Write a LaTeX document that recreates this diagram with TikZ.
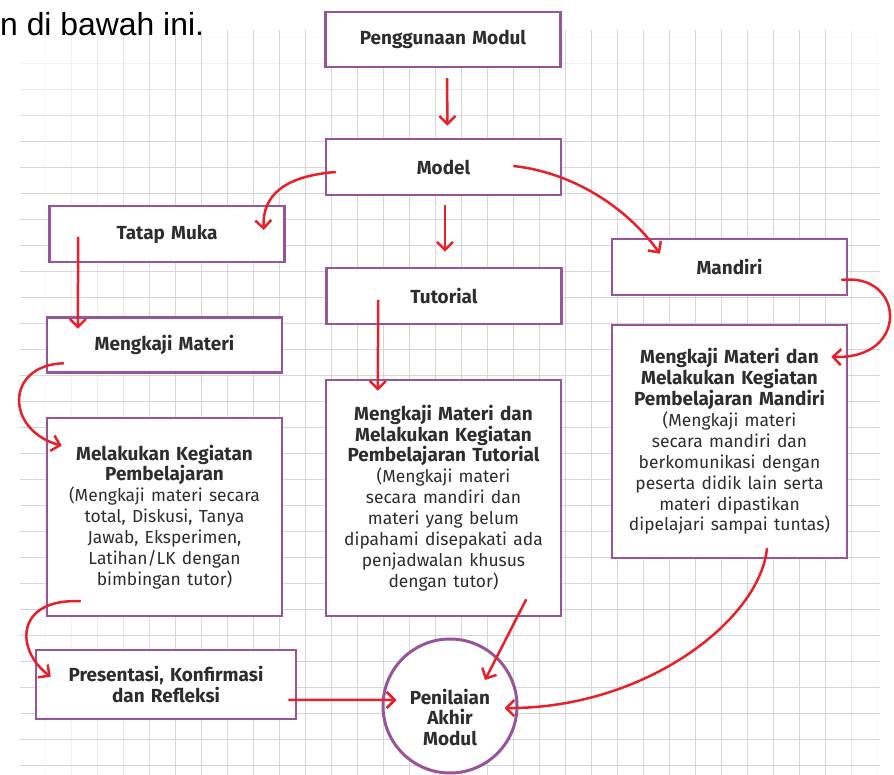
\documentclass[tikz,border=0pt]{standalone}
\usepackage{fontspec}
\setmainfont{Fira Sans}
\newfontfamily\introfont{Liberation Sans}
\usetikzlibrary{arrows.meta}
\definecolor{boxpurple}{RGB}{152,84,152}
\definecolor{arrowred}{RGB}{232,32,42}
\definecolor{textgray}{RGB}{45,45,45}
\newcommand\detailfont{\mdseries\fontsize{17.5}{21}\selectfont}

\begin{document}
\begin{tikzpicture}[x=1bp,y=1bp,inner sep=0pt,
  modbox/.style={draw=boxpurple,line width=2.5bp,fill=white,minimum width=235bp,minimum height=56bp,
    text width=228bp,align=center,text=textgray,font=\fontsize{19}{21}\selectfont\bfseries},
  modcircle/.style={circle,draw=boxpurple,line width=3bp,fill=white,minimum size=134bp,
    text width=110bp,align=center,text=textgray,font=\fontsize{19}{20.5}\selectfont\bfseries},
  flow/.style={draw=arrowred,line width=2.5bp,-{Straight Barb[length=8bp,width=16bp]}}]
\useasboundingbox (0,0) rectangle (894,775);
\fill[white] (0,0) rectangle (894,775);
% faded grid paper behind the chart
\foreach \gx [evaluate=\gx as \op using {max(0,min(1,(\gx-20)/160,(885-\gx)/60))}] in {45,71,...,877}
  \draw[black!16,line width=0.8bp,opacity=\op] (\gx,0) -- (\gx,745);
\foreach \gy [evaluate=\gy as \op using {max(0,min(1,(750-\gy)/120))}] in {10,36,...,738}
  \draw[black!16,line width=0.8bp,opacity=\op] (20,\gy) -- (880,\gy);
\node[anchor=base west,font=\introfont\fontsize{32}{32}\selectfont] (intro) at (0,739) {n di bawah ini.};
\node[modbox,minimum height=55bp] (use) at (443,735.5) {Penggunaan Modul};
\node[modbox] (model) at (443.5,608) {Model};
\node[modbox] (tatap) at (167,541) {Tatap Muka};
\node[modbox] (tutorial) at (444,479) {Tutorial};
\node[modbox] (mandiri) at (729.5,508) {Mandiri};
\node[modbox,minimum height=55bp] (kaji) at (164.5,430) {Mengkaji Materi};
\node[modbox,minimum height=198bp] (lakukan) at (164.5,258) {Melakukan Kegiatan\\Pembelajaran\\
  \detailfont(Mengkaji materi secara\\total, Diskusi, Tanya\\Jawab, Eksperimen,\\Latihan/LK dengan\\bimbingan tutor)};
\node[modbox,minimum width=260bp,text width=250bp,minimum height=69bp] (presentasi) at (166,90.5) {Presentasi, Konfirmasi\\dan Refleksi};
\node[modbox,minimum height=236bp] (tutorkaji) at (443.5,277) {Mengkaji Materi dan\\Melakukan Kegiatan\\Pembelajaran Tutorial\\
  \detailfont(Mengkaji materi\\secara mandiri dan\\materi yang belum\\dipahami disepakati ada\\penjadwalan khusus\\dengan tutor)};
\node[modbox,minimum height=233bp] (mandirikaji) at (729.5,333.5) {Mengkaji Materi dan\\Melakukan Kegiatan\\Pembelajaran Mandiri\\
  \detailfont(Mengkaji materi\\secara mandiri dan\\berkomunikasi dengan\\peserta didik lain serta\\materi dipastikan\\dipelajari sampai tuntas)};
\node[modcircle,text depth=19bp] (nilai) at (450,69) {Penilaian\\Akhir\\Modul};
% red connectors
\draw[flow] ([xshift=4bp,yshift=-10bp]use.south) -- ([xshift=4bp,yshift=12bp]model.north);
\draw[flow] ([xshift=1.5bp,yshift=-9bp]model.south) -- ([xshift=1bp,yshift=15bp]tutorial.north);
\draw[flow] ([xshift=11bp,yshift=-5bp]model.west) .. controls (285,599) and (262,580) .. ([xshift=-22bp,yshift=4bp]tatap.east);
\draw[flow] ([xshift=-49bp,yshift=1bp]model.east) .. controls (570,603) and (625,570) .. ([xshift=-69.5bp,yshift=-16bp]mandiri.north);
\draw[flow] ([xshift=30bp,yshift=-3bp]tatap.west) -- ([xshift=32bp,yshift=-12.5bp]kaji.north west);
\draw[flow] ([xshift=18bp,yshift=10.5bp]kaji.south west) .. controls (5,410) and (5,345) .. ([xshift=16bp,yshift=-29bp]lakukan.north west);
\draw[flow] ([xshift=35bp,yshift=16bp]lakukan.south west) .. controls (15,177) and (15,125) .. ([xshift=16bp,yshift=-28bp]presentasi.north west);
\draw[flow] ([xshift=-9bp,yshift=-15.5bp]presentasi.east) -- ([xshift=15bp,yshift=6bp]nilai.west);
\draw[flow] ([xshift=53bp,yshift=-4bp]tutorial.west) -- ([xshift=53bp,yshift=-12bp]tutorkaji.north west);
\draw[flow] ([xshift=-36bp,yshift=18bp]tutorkaji.south east) -- ([xshift=35bp,yshift=26bp]nilai.center);
\draw[flow] ([xshift=37.5bp,yshift=11bp]mandirikaji.south) .. controls (760,155) and (645,66) .. ([xshift=-14bp,yshift=-2bp]nilai.east);
\draw[flow] ([xshift=-7bp,yshift=-13bp]mandiri.east) .. controls (905,503) and (910,415) .. ([xshift=-17bp,yshift=-33bp]mandirikaji.north east);
\end{tikzpicture}
\end{document}
